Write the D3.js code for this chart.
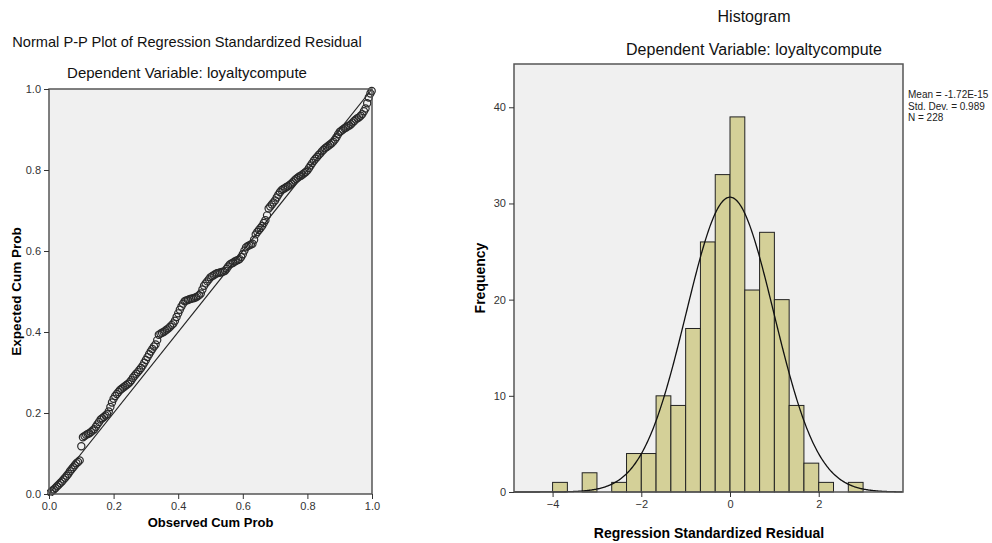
<!DOCTYPE html>
<html>
<head>
<meta charset="utf-8">
<script src="https://cdn.jsdelivr.net/npm/d3@7"></script>
<style>
  body { margin: 0; background: #fff; }
  svg text { font-family: "Liberation Sans", Arial, sans-serif; }
  .tick text { fill: #333; font-size: 11px; }
  .tick line { stroke: #333; }
</style>
</head>
<body>
<div id="chart-area"></div>
<script>
// P-P plot: observed vs expected cumulative probability
const observed = [
  0.005, 0.010, 0.015, 0.020, 0.025, 0.030, 0.035, 0.040, 0.045, 0.050,
  0.055, 0.060, 0.065, 0.070, 0.075, 0.080, 0.085, 0.090, 0.095, 0.100,
  0.105, 0.110, 0.115, 0.120, 0.125, 0.130, 0.135, 0.140, 0.145, 0.150,
  0.155, 0.160, 0.165, 0.170, 0.175, 0.180, 0.185, 0.190, 0.195, 0.200,
  0.205, 0.210, 0.215, 0.220, 0.225, 0.230, 0.235, 0.240, 0.245, 0.250,
  0.255, 0.260, 0.265, 0.270, 0.275, 0.280, 0.285, 0.290, 0.295, 0.300,
  0.305, 0.310, 0.315, 0.320, 0.325, 0.330, 0.335, 0.340, 0.345, 0.350,
  0.355, 0.360, 0.365, 0.370, 0.375, 0.380, 0.385, 0.390, 0.395, 0.400,
  0.405, 0.410, 0.415, 0.420, 0.425, 0.430, 0.435, 0.440, 0.445, 0.450,
  0.455, 0.460, 0.465, 0.470, 0.475, 0.480, 0.485, 0.490, 0.495, 0.500,
  0.505, 0.510, 0.515, 0.520, 0.525, 0.530, 0.535, 0.540, 0.545, 0.550,
  0.555, 0.560, 0.565, 0.570, 0.575, 0.580, 0.585, 0.590, 0.595, 0.600,
  0.605, 0.610, 0.615, 0.620, 0.625, 0.630, 0.635, 0.640, 0.645, 0.650,
  0.655, 0.660, 0.665, 0.670, 0.675, 0.680, 0.685, 0.690, 0.695, 0.700,
  0.705, 0.710, 0.715, 0.720, 0.725, 0.730, 0.735, 0.740, 0.745, 0.750,
  0.755, 0.760, 0.765, 0.770, 0.775, 0.780, 0.785, 0.790, 0.795, 0.800,
  0.805, 0.810, 0.815, 0.820, 0.825, 0.830, 0.835, 0.840, 0.845, 0.850,
  0.855, 0.860, 0.865, 0.870, 0.875, 0.880, 0.885, 0.890, 0.895, 0.900,
  0.905, 0.910, 0.915, 0.920, 0.925, 0.930, 0.935, 0.940, 0.945, 0.950,
  0.955, 0.960, 0.965, 0.970, 0.975, 0.980, 0.985, 0.990, 0.995, 0.999];
const expected = [
  0.004, 0.008, 0.011, 0.015, 0.019, 0.023, 0.027, 0.031, 0.036, 0.040,
  0.045, 0.050, 0.056, 0.061, 0.066, 0.071, 0.076, 0.079, 0.083, 0.118,
  0.140, 0.143, 0.146, 0.148, 0.150, 0.153, 0.157, 0.160, 0.166, 0.172,
  0.178, 0.184, 0.187, 0.190, 0.194, 0.197, 0.204, 0.215, 0.226, 0.235,
  0.242, 0.247, 0.252, 0.257, 0.260, 0.263, 0.266, 0.269, 0.272, 0.276,
  0.281, 0.287, 0.292, 0.297, 0.301, 0.306, 0.311, 0.317, 0.324, 0.331,
  0.338, 0.345, 0.352, 0.358, 0.364, 0.369, 0.380, 0.393, 0.396, 0.398,
  0.400, 0.403, 0.406, 0.409, 0.413, 0.417, 0.421, 0.428, 0.437, 0.446,
  0.455, 0.463, 0.470, 0.476, 0.478, 0.479, 0.481, 0.482, 0.483, 0.484,
  0.486, 0.488, 0.491, 0.495, 0.505, 0.514, 0.520, 0.525, 0.530, 0.535,
  0.538, 0.540, 0.543, 0.545, 0.546, 0.547, 0.548, 0.549, 0.551, 0.556,
  0.562, 0.567, 0.569, 0.571, 0.574, 0.576, 0.578, 0.580, 0.585, 0.592,
  0.601, 0.609, 0.612, 0.614, 0.616, 0.618, 0.628, 0.641, 0.647, 0.652,
  0.657, 0.662, 0.669, 0.676, 0.688, 0.705, 0.710, 0.715, 0.720, 0.725,
  0.732, 0.739, 0.745, 0.750, 0.753, 0.755, 0.758, 0.760, 0.763, 0.766,
  0.770, 0.774, 0.778, 0.781, 0.784, 0.786, 0.789, 0.792, 0.795, 0.799,
  0.805, 0.811, 0.817, 0.823, 0.828, 0.832, 0.837, 0.841, 0.846, 0.850,
  0.854, 0.857, 0.860, 0.863, 0.866, 0.870, 0.875, 0.881, 0.888, 0.894,
  0.897, 0.900, 0.903, 0.905, 0.908, 0.910, 0.913, 0.917, 0.921, 0.925,
  0.928, 0.930, 0.934, 0.938, 0.945, 0.952, 0.965, 0.979, 0.989, 0.995];
const ppTicks = [0, 0.2, 0.4, 0.6, 0.8, 1.0];

// Histogram of standardized residuals: bins of width 1/3 starting at -4
const binStarts = [-4, -3.667, -3.333, -3, -2.667, -2.333, -2, -1.667, -1.333, -1, -0.667,
  -0.333, 0, 0.333, 0.667, 1, 1.333, 1.667, 2, 2.333, 2.667];
const binCounts = [1, 0, 2, 0, 1, 4, 4, 10, 9, 17, 26,
  33, 39, 21, 27, 20, 9, 3, 1, 0, 1];
const binWidth = 1 / 3;
const histXTicks = [-4, -2, 0, 2];
const histYTicks = [0, 10, 20, 30, 40];
const stats = {mean: -1.72e-15, sd: 0.989, n: 228};
const statLabels = ["Mean = -1.72E-15", "Std. Dev. = 0.989", "N = 228"];

const svg = d3.select("#chart-area").append("svg")
  .attr("width", 992)
  .attr("height", 543);

// ---------- left: P-P plot ----------
let pp = {left: 49, right: 372, top: 89, bottom: 494};
let ppX = d3.scaleLinear().domain([0, 1]).range([pp.left, pp.right]);
let ppY = d3.scaleLinear().domain([0, 1]).range([pp.bottom, pp.top]);

svg.append("text")
  .attr("x", 187).attr("y", 47)
  .attr("text-anchor", "middle")
  .attr("font-size", 14.6)
  .attr("fill", "#111")
  .text("Normal P-P Plot of Regression Standardized Residual");
svg.append("text")
  .attr("x", 187).attr("y", 78)
  .attr("text-anchor", "middle")
  .attr("font-size", 15)
  .attr("fill", "#111")
  .text("Dependent Variable: loyaltycompute");

svg.append("rect")
  .attr("x", pp.left).attr("y", pp.top)
  .attr("width", pp.right - pp.left).attr("height", pp.bottom - pp.top)
  .attr("fill", "#f0f0f0");

svg.append("defs").append("clipPath").attr("id", "ppclip")
  .append("rect")
  .attr("x", pp.left - 2).attr("y", pp.top - 4)
  .attr("width", pp.right - pp.left + 6).attr("height", pp.bottom - pp.top + 6);

svg.append("line")
  .attr("x1", ppX(0)).attr("y1", ppY(0))
  .attr("x2", ppX(1)).attr("y2", ppY(1))
  .attr("stroke", "#222").attr("stroke-width", 1.2);

svg.append("g").attr("clip-path", "url(#ppclip)")
  .selectAll("circle")
  .data(observed)
  .enter().append("circle")
  .attr("cx", d => ppX(d))
  .attr("cy", (d, i) => ppY(expected[i]))
  .attr("r", 3.6)
  .attr("fill", "none")
  .attr("stroke", "#2a2a2a")
  .attr("stroke-width", 1.2);

svg.append("rect")
  .attr("x", pp.left).attr("y", pp.top)
  .attr("width", pp.right - pp.left).attr("height", pp.bottom - pp.top)
  .attr("fill", "none")
  .attr("stroke", "#555").attr("stroke-width", 1.5);

svg.append("g")
  .attr("transform", "translate(0," + pp.bottom + ")")
  .call(d3.axisBottom(ppX).tickValues(ppTicks).tickFormat(d3.format(".1f")).tickSize(5).tickSizeOuter(0))
  .call(g => g.select(".domain").remove());
svg.append("g")
  .attr("transform", "translate(" + pp.left + ",0)")
  .call(d3.axisLeft(ppY).tickValues(ppTicks).tickFormat(d3.format(".1f")).tickSize(5).tickSizeOuter(0))
  .call(g => g.select(".domain").remove());

svg.append("text")
  .attr("x", (pp.left + pp.right) / 2).attr("y", 527)
  .attr("text-anchor", "middle")
  .attr("font-size", 13).attr("font-weight", "bold")
  .text("Observed Cum Prob");
svg.append("text")
  .attr("transform", "translate(21," + (pp.top + pp.bottom) / 2 + ") rotate(-90)")
  .attr("text-anchor", "middle")
  .attr("font-size", 13.5).attr("font-weight", "bold")
  .text("Expected Cum Prob");

// ---------- right: histogram ----------
let hs = {left: 514, right: 903, top: 64, bottom: 492};
let hX = d3.scaleLinear().domain([-4.87, 3.9]).range([hs.left, hs.right]);
let hY = d3.scaleLinear().domain([0, 44.5]).range([hs.bottom, hs.top]);

svg.append("text")
  .attr("x", 754).attr("y", 22)
  .attr("text-anchor", "middle")
  .attr("font-size", 16)
  .attr("fill", "#111")
  .text("Histogram");
svg.append("text")
  .attr("x", 754).attr("y", 55)
  .attr("text-anchor", "middle")
  .attr("font-size", 16)
  .attr("fill", "#111")
  .text("Dependent Variable: loyaltycompute");

svg.append("rect")
  .attr("x", hs.left).attr("y", hs.top)
  .attr("width", hs.right - hs.left).attr("height", hs.bottom - hs.top)
  .attr("fill", "#f0f0f0");

svg.append("g")
  .selectAll("rect")
  .data(binStarts.filter((d, i) => binCounts[i] > 0))
  .enter().append("rect")
  .attr("x", d => hX(d))
  .attr("y", d => hY(binCounts[binStarts.indexOf(d)]))
  .attr("width", d => hX(d + binWidth) - hX(d))
  .attr("height", d => hs.bottom - hY(binCounts[binStarts.indexOf(d)]))
  .attr("fill", "#d4d098")
  .attr("stroke", "#222")
  .attr("stroke-width", 1);

// fitted normal curve from the reported mean, sd and N
let normal = x => stats.n * binWidth * Math.exp(-0.5 * Math.pow((x - stats.mean) / stats.sd, 2)) / (stats.sd * Math.sqrt(2 * Math.PI));
let curveXs = d3.range(-4.87, 3.9001, 0.02);
svg.append("path")
  .datum(curveXs)
  .attr("d", d3.line().x(d => hX(d)).y(d => hY(normal(d))))
  .attr("fill", "none")
  .attr("stroke", "#111")
  .attr("stroke-width", 1.3);

svg.append("rect")
  .attr("x", hs.left).attr("y", hs.top)
  .attr("width", hs.right - hs.left).attr("height", hs.bottom - hs.top)
  .attr("fill", "none")
  .attr("stroke", "#555").attr("stroke-width", 1.5);

svg.append("g")
  .attr("transform", "translate(0," + hs.bottom + ")")
  .call(d3.axisBottom(hX).tickValues(histXTicks).tickSize(5).tickSizeOuter(0))
  .call(g => g.select(".domain").remove());
svg.append("g")
  .attr("transform", "translate(" + hs.left + ",0)")
  .call(d3.axisLeft(hY).tickValues(histYTicks).tickSize(5).tickSizeOuter(0))
  .call(g => g.select(".domain").remove());

svg.append("text")
  .attr("x", 709).attr("y", 538)
  .attr("text-anchor", "middle")
  .attr("font-size", 14).attr("font-weight", "bold")
  .text("Regression Standardized Residual");
svg.append("text")
  .attr("transform", "translate(485," + (hs.top + hs.bottom) / 2 + ") rotate(-90)")
  .attr("text-anchor", "middle")
  .attr("font-size", 14).attr("font-weight", "bold")
  .text("Frequency");

svg.append("g")
  .selectAll("text")
  .data(statLabels)
  .enter().append("text")
  .attr("x", 908)
  .attr("y", (d, i) => 98 + i * 11.5)
  .attr("font-size", 10)
  .attr("fill", "#222")
  .text(d => d);
</script>
</body>
</html>
